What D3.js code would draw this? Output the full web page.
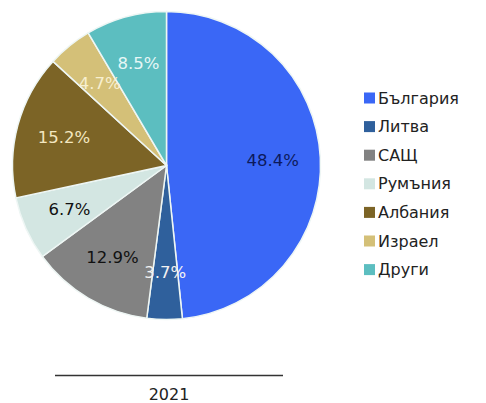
<!DOCTYPE html>
<html>
<head>
<meta charset="utf-8">
<script src="https://cdn.jsdelivr.net/npm/d3@7"></script>
<style>
  body { margin: 0; background: #fff; }
  svg text { font-family: "DejaVu Sans", Verdana, sans-serif; }
</style>
</head>
<body>
<div id="chart-area"></div>
<script>
const categories = ["България", "Литва", "САЩ", "Румъния", "Албания", "Израел", "Други"];
const shares = [48.4, 3.7, 12.9, 6.7, 15.2, 4.7, 8.5];
const colors = ["#3a67f6", "#2f609c", "#828282", "#d3e6e2", "#7c6426", "#d4c078", "#5cbec0"];
const labelColors = ["#0d1a5c", "#f2f2f2", "#111111", "#111111", "#f3e7c0", "#f7efcf", "#e6f7f6"];
const yearLabel = "2021";

const svgWidth = 486, svgHeight = 403;
const cx = 166.5, cy = 165.5, radius = 154;

const svg = d3.select("#chart-area")
    .append("svg")
    .attr("width", svgWidth)
    .attr("height", svgHeight);

const data = categories.map((c, i) => ({ name: c, value: shares[i], i }));

const pie = d3.pie().value(d => d.value).sort(null);
const arc = d3.arc().innerRadius(0).outerRadius(radius);
const labelArc = d3.arc().innerRadius(radius * 0.69).outerRadius(radius * 0.69);

const g = svg.append("g").attr("transform", `translate(${cx}, ${cy})`);

const arcs = pie(data);

g.selectAll(".slice")
    .data(arcs)
    .join("path")
    .attr("class", "slice")
    .attr("d", arc)
    .attr("fill", d => colors[d.data.i])
    .attr("stroke", "#eef6f4")
    .attr("stroke-width", 1.5);

g.selectAll(".label")
    .data(arcs)
    .join("text")
    .attr("class", "label")
    .attr("transform", d => `translate(${labelArc.centroid(d)})`)
    .attr("text-anchor", "middle")
    .attr("dy", "0.35em")
    .style("font-size", "16.5px")
    .attr("fill", d => labelColors[d.data.i])
    .text(d => d.data.value.toFixed(1) + "%");

// legend
const legend = svg.append("g").attr("transform", "translate(364, 98)");
const rowStep = 28.6;

const rows = legend.selectAll(".row")
    .data(data)
    .join("g")
    .attr("class", "row")
    .attr("transform", (d, i) => `translate(0, ${i * rowStep})`);

rows.append("rect")
    .attr("x", 0)
    .attr("y", -5.5)
    .attr("width", 11)
    .attr("height", 11)
    .attr("fill", d => colors[d.i]);

rows.append("text")
    .attr("x", 14)
    .attr("dy", "0.35em")
    .style("font-size", "16px")
    .attr("fill", "#222")
    .text(d => d.name);

// bottom axis line with year
svg.append("line")
    .attr("x1", 55)
    .attr("x2", 283)
    .attr("y1", 375.5)
    .attr("y2", 375.5)
    .attr("stroke", "#333")
    .attr("stroke-width", 1.5);

svg.append("text")
    .attr("x", 169)
    .attr("y", 400)
    .attr("text-anchor", "middle")
    .style("font-size", "16px")
    .attr("fill", "#222")
    .text(yearLabel);
</script>
</body>
</html>
